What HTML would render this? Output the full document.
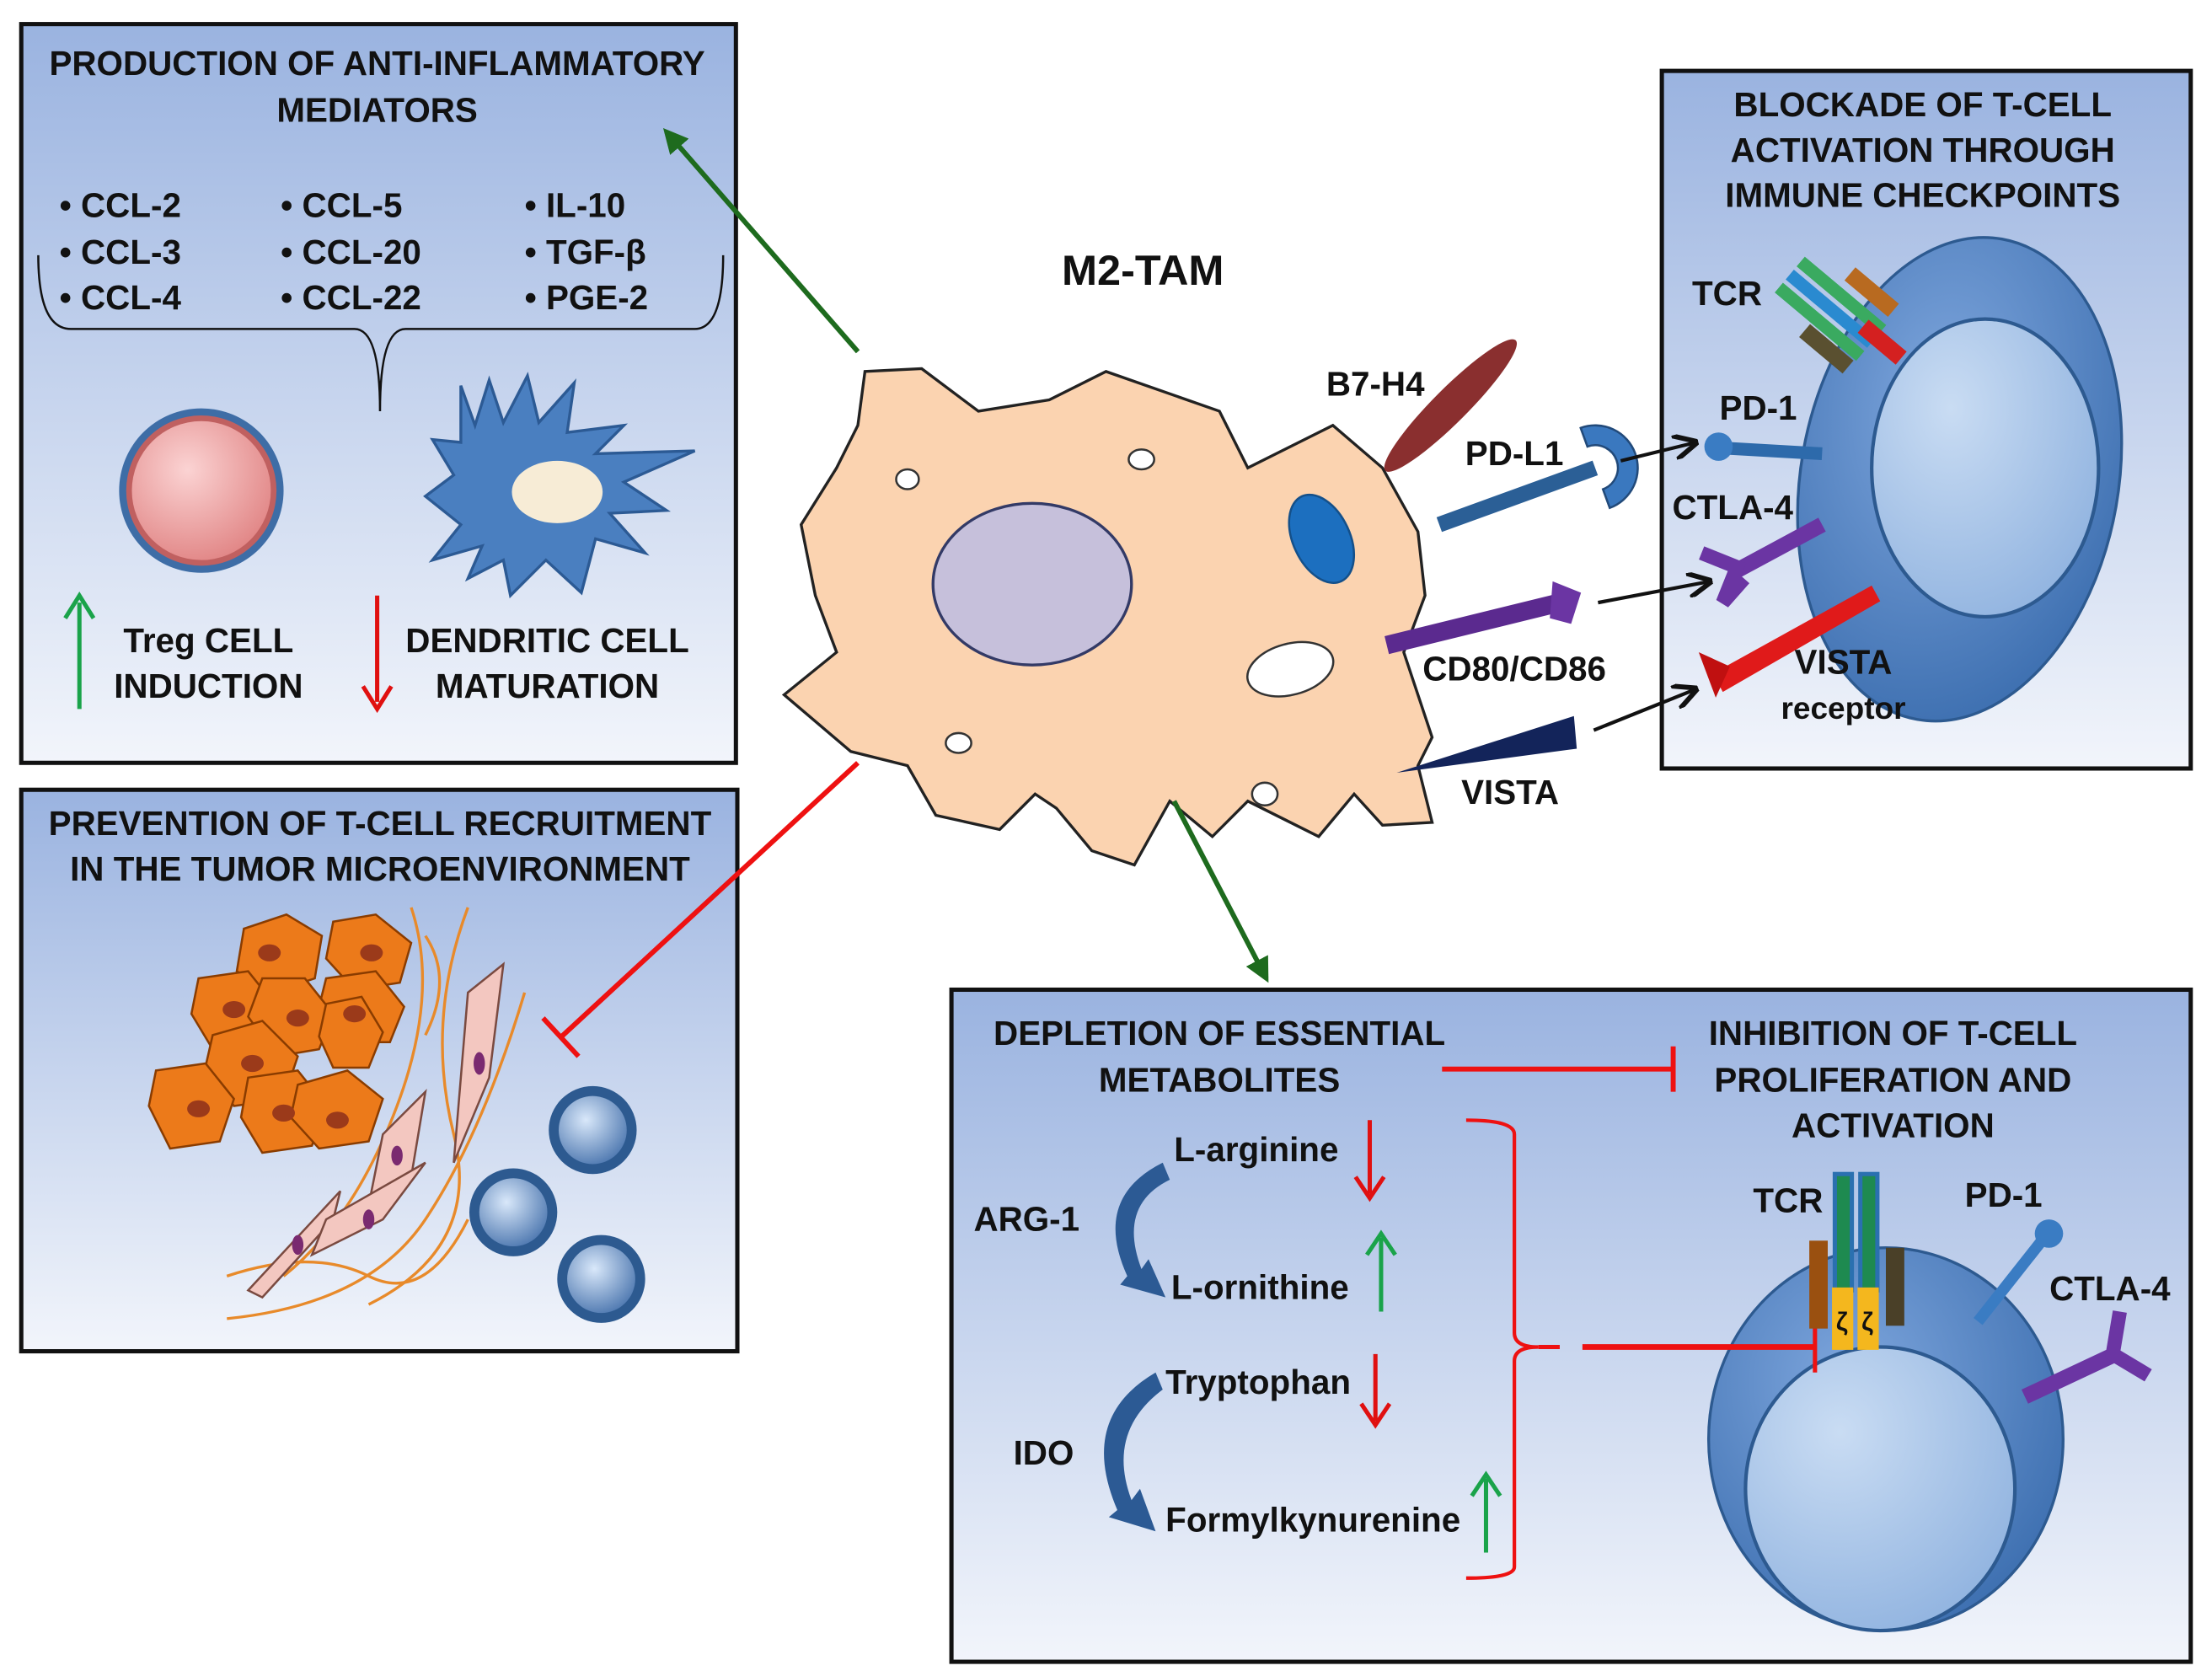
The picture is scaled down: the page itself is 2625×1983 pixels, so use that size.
<!DOCTYPE html>
<html><head><meta charset="utf-8"><style>html,body{margin:0;padding:0;background:#fff}svg{display:block}text{font-family:"Liberation Sans",sans-serif;font-weight:bold;fill:#111}</style></head><body>
<svg width="2625" height="1983" viewBox="0 0 1560 1178.5" preserveAspectRatio="none" xmlns="http://www.w3.org/2000/svg">
<defs>
<linearGradient id="bg" x1="0" y1="0" x2="0" y2="1"><stop offset="0" stop-color="#9ab3e0"/><stop offset="1" stop-color="#f2f5fb"/></linearGradient>
<radialGradient id="cellb" cx="0.4" cy="0.35" r="0.7"><stop offset="0" stop-color="#7ea6dd"/><stop offset="1" stop-color="#3d6fb0"/></radialGradient>
<radialGradient id="nuc" cx="0.35" cy="0.3" r="0.8"><stop offset="0" stop-color="#c9dcf3"/><stop offset="1" stop-color="#8fb2df"/></radialGradient>
<radialGradient id="treg" cx="0.4" cy="0.35" r="0.7"><stop offset="0" stop-color="#fbd3d3"/><stop offset="1" stop-color="#e18585"/></radialGradient>
<radialGradient id="sm" cx="0.4" cy="0.35" r="0.7"><stop offset="0" stop-color="#d9e8fa"/><stop offset="1" stop-color="#4e78b0"/></radialGradient>
<marker id="ah" viewBox="0 0 10 10" refX="9" refY="5" markerWidth="7" markerHeight="7" orient="auto"><path d="M0,0 L10,5 L0,10" fill="none" stroke="#111" stroke-width="2"/></marker>
<marker id="ag" viewBox="0 0 10 10" refX="8" refY="5" markerWidth="5" markerHeight="5" orient="auto"><path d="M0,0 L10,5 L0,10 z" fill="#1e6b1e"/></marker>
</defs>
<rect width="1560" height="1179" fill="#fff"/>
<rect x="15" y="17" width="504" height="521" fill="url(#bg)" stroke="#111" stroke-width="3"/>
<rect x="15" y="557" width="505" height="396" fill="url(#bg)" stroke="#111" stroke-width="3"/>
<rect x="1172" y="50" width="373" height="492" fill="url(#bg)" stroke="#111" stroke-width="3"/>
<rect x="671" y="698" width="874" height="474" fill="url(#bg)" stroke="#111" stroke-width="3"/>

<g font-size="24">
<text x="266" y="53" text-anchor="middle">PRODUCTION OF ANTI-INFLAMMATORY</text>
<text x="266" y="86" text-anchor="middle">MEDIATORS</text>
<text x="42" y="153">• CCL-2</text><text x="42" y="186">• CCL-3</text><text x="42" y="218">• CCL-4</text>
<text x="198" y="153">• CCL-5</text><text x="198" y="186">• CCL-20</text><text x="198" y="218">• CCL-22</text>
<text x="370" y="153">• IL-10</text><text x="370" y="186">• TGF-β</text><text x="370" y="218">• PGE-2</text>
</g>
<path d="M27,180 Q27,232 50,232 L250,232 Q268,232 268,290 Q268,232 286,232 L490,232 Q510,232 510,180" fill="none" stroke="#111" stroke-width="1.5"/>
<circle cx="142" cy="346" r="58" fill="#3e6da6"/><circle cx="142" cy="346" r="53" fill="#c06060"/><circle cx="142" cy="346" r="49" fill="url(#treg)"/>
<path d="M325,272 L335,300 L345,268 L355,298 L372,265 L380,298 L405,270 L400,305 L440,300 L420,320 L490,318 L440,340 L470,360 L430,362 L455,390 L420,380 L410,418 L385,395 L360,420 L355,395 L330,408 L340,385 L305,395 L325,370 L300,350 L320,335 L305,310 L325,312 Z" fill="#4a7fc0" stroke="#2c5a94" stroke-width="2"/>
<ellipse cx="393" cy="347" rx="32" ry="22" fill="#f7ecd6"/>
<line x1="56" y1="500" x2="56" y2="425" stroke="#1aa34a" stroke-width="3"/><path d="M46,436 L56,420 L66,436" fill="none" stroke="#1aa34a" stroke-width="3"/>
<line x1="266" y1="420" x2="266" y2="495" stroke="#e01010" stroke-width="3"/><path d="M256,484 L266,500 L276,484" fill="none" stroke="#e01010" stroke-width="3"/>
<g font-size="24">
<text x="147" y="460" text-anchor="middle">Treg CELL</text><text x="147" y="492" text-anchor="middle">INDUCTION</text>
<text x="386" y="460" text-anchor="middle">DENDRITIC CELL</text><text x="386" y="492" text-anchor="middle">MATURATION</text>
<text x="268" y="589" text-anchor="middle">PREVENTION OF T-CELL RECRUITMENT</text>
<text x="268" y="621" text-anchor="middle">IN THE TUMOR MICROENVIRONMENT</text>
</g>
<g fill="#ec7a1a" stroke="#8a3c00" stroke-width="1.5">
<path d="M172,655 l30,-10 25,15 -5,30 -30,10 -25,-15z"/><path d="M235,650 l30,-5 25,20 -8,28 -32,5 -20,-22z"/><path d="M230,690 l35,-5 20,25 -10,25 -35,0 -15,-25z"/>
<path d="M140,690 l35,-5 20,25 -10,30 -35,0 -15,-25z"/><path d="M185,690 l30,0 20,25 -10,25 -30,5 -20,-28z"/><path d="M150,730 l35,-10 25,25 -10,30 -35,5 -20,-28z"/>
<path d="M110,755 l35,-5 20,25 -10,30 -35,5 -15,-30z"/><path d="M175,760 l35,-5 20,25 -10,28 -35,5 -15,-25z"/><path d="M210,765 l35,-10 25,20 -10,30 -35,5 -20,-22z"/>
<path d="M230,708 l25,-5 15,25 -10,25 -25,0 -10,-22z"/></g>
<g fill="#9b3a1a"><ellipse cx="190" cy="672" rx="8" ry="6"/><ellipse cx="262" cy="672" rx="8" ry="6"/><ellipse cx="250" cy="715" rx="8" ry="6"/><ellipse cx="165" cy="712" rx="8" ry="6"/><ellipse cx="210" cy="718" rx="8" ry="6"/><ellipse cx="178" cy="750" rx="8" ry="6"/><ellipse cx="140" cy="782" rx="8" ry="6"/><ellipse cx="200" cy="785" rx="8" ry="6"/><ellipse cx="238" cy="790" rx="8" ry="6"/></g>
<g fill="none" stroke="#e88a2a" stroke-width="2"><path d="M290,640 Q310,700 280,780 T200,900"/><path d="M330,640 Q300,720 320,800 T260,920"/><path d="M370,700 Q340,800 300,860 T160,930"/><path d="M160,900 Q220,880 260,900 T330,860"/><path d="M300,660 Q320,690 300,730"/></g>
<g fill="#f3c7c0" stroke="#7a4a40" stroke-width="1.5"><path d="M330,700 L355,680 L345,760 L320,820 Z"/><path d="M270,800 L300,770 L290,830 L260,850 Z"/><path d="M175,910 L240,840 L235,860 L185,915 Z"/><path d="M230,860 L300,820 L270,860 L220,885Z"/></g>
<g fill="#7a2a70"><ellipse cx="338" cy="750" rx="4" ry="8"/><ellipse cx="280" cy="815" rx="4" ry="7"/><ellipse cx="210" cy="878" rx="4" ry="7"/><ellipse cx="260" cy="860" rx="4" ry="7"/></g>
<g><circle cx="418" cy="797" r="31" fill="#2d5a90"/><circle cx="418" cy="797" r="24" fill="url(#sm)"/>
<circle cx="362" cy="855" r="31" fill="#2d5a90"/><circle cx="362" cy="855" r="24" fill="url(#sm)"/>
<circle cx="424" cy="902" r="31" fill="#2d5a90"/><circle cx="424" cy="902" r="24" fill="url(#sm)"/></g>
<line x1="605" y1="538" x2="395" y2="732" stroke="#ee1111" stroke-width="3.5"/><line x1="383" y1="718" x2="408" y2="745" stroke="#ee1111" stroke-width="3.5"/>

<path d="M610,262 L650,260 L690,290 L740,282 L780,262 L860,290 L880,330 L940,300 L975,330 L1000,375 L1005,420 L990,460 L1010,520 L1000,540 L1010,580 L975,582 L955,560 L930,590 L880,565 L855,590 L825,565 L800,610 L770,600 L745,570 L730,560 L705,585 L660,575 L640,540 L600,530 L553,490 L590,460 L575,420 L565,370 L590,330 L605,300 Z" fill="#fbd3b0" stroke="#222" stroke-width="2"/>
<ellipse cx="728" cy="412" rx="70" ry="57" fill="#c6c0db" stroke="#333a66" stroke-width="2"/>
<ellipse cx="932" cy="380" rx="20" ry="33" transform="rotate(-25 932 380)" fill="#1c6fbf" stroke="#14508a" stroke-width="1.5"/>
<ellipse cx="910" cy="472" rx="31" ry="18" transform="rotate(-15 910 472)" fill="#fff" stroke="#333" stroke-width="1.5"/>
<g fill="#fff" stroke="#333" stroke-width="1.5"><ellipse cx="640" cy="338" rx="8" ry="7"/><ellipse cx="805" cy="324" rx="9" ry="7"/><ellipse cx="676" cy="524" rx="9" ry="7"/><ellipse cx="892" cy="560" rx="9" ry="8"/></g>
<text x="806" y="201" font-size="30" text-anchor="middle">M2-TAM</text>
<ellipse cx="1023" cy="286" rx="65" ry="12" transform="rotate(-45 1023 286)" fill="#8a2f2f"/>
<g font-size="24">
<text x="970" y="279" text-anchor="middle">B7-H4</text>
<text x="1068" y="328" text-anchor="middle">PD-L1</text>
<text x="1068" y="480" text-anchor="middle">CD80/CD86</text>
<text x="1065" y="567" text-anchor="middle">VISTA</text>
</g>
<line x1="1015" y1="370" x2="1125" y2="330" stroke="#2b5f96" stroke-width="11"/>
<path d="M1125,300 A30,30 0 0 1 1125,360 L1125,346 A16,16 0 0 0 1125,314 Z" fill="#3a78bf" stroke="#224a7a" stroke-width="1.5" transform="rotate(-20 1125 330)"/>
<line x1="1143" y1="325" x2="1196" y2="312" stroke="#111" stroke-width="2.5" marker-end="url(#ah)"/>
<line x1="978" y1="455" x2="1100" y2="425" stroke="#5b2a8f" stroke-width="13"/><path d="M1095,410 L1115,418 L1108,440 L1093,436Z" fill="#6b35a3"/>
<line x1="1127" y1="425" x2="1206" y2="410" stroke="#111" stroke-width="2.5" marker-end="url(#ah)"/>
<path d="M985,545 L1110,505 L1112,528 Z" fill="#13245a"/>
<line x1="1124" y1="515" x2="1196" y2="486" stroke="#111" stroke-width="2.5" marker-end="url(#ah)"/>
<line x1="605" y1="248" x2="470" y2="93" stroke="#1e6b1e" stroke-width="3.5" marker-end="url(#ag)"/>
<line x1="828" y1="565" x2="893" y2="690" stroke="#1e6b1e" stroke-width="3.5" marker-end="url(#ag)"/>

<g font-size="24">
<text x="1356" y="82" text-anchor="middle">BLOCKADE OF T-CELL</text>
<text x="1356" y="114" text-anchor="middle">ACTIVATION THROUGH</text>
<text x="1356" y="146" text-anchor="middle">IMMUNE CHECKPOINTS</text>
</g>
<ellipse cx="1382" cy="338" rx="112" ry="172" transform="rotate(10 1382 338)" fill="url(#cellb)" stroke="#2d5a90" stroke-width="2"/>
<ellipse cx="1400" cy="330" rx="80" ry="105" fill="url(#nuc)" stroke="#2d5a90" stroke-width="2.5"/>
<g transform="rotate(40 1290 215)"><rect x="1255" y="200" width="75" height="9" fill="#3aaa60"/><rect x="1255" y="212" width="75" height="9" fill="#2a8ad0"/><rect x="1255" y="224" width="75" height="9" fill="#3aaa60"/></g>
<rect x="1300" y="200" width="40" height="12" fill="#b86a20" transform="rotate(40 1320 206)"/>
<rect x="1310" y="235" width="35" height="12" fill="#d42020" transform="rotate(40 1327 241)"/>
<rect x="1268" y="240" width="40" height="12" fill="#5a5030" transform="rotate(40 1288 246)"/>
<line x1="1215" y1="316" x2="1285" y2="320" stroke="#2d6aab" stroke-width="9"/><circle cx="1212" cy="315" r="10" fill="#3a7cc3"/>
<line x1="1220" y1="405" x2="1285" y2="370" stroke="#6b35a3" stroke-width="11"/><path d="M1200,390 L1225,400 L1215,425 L1230,408" fill="none" stroke="#6b35a3" stroke-width="10"/>
<path d="M1208,475 L1320,413 L1326,424 L1215,488 Z" fill="#e01a1a"/><path d="M1198,460 L1210,492 L1220,470Z" fill="#c01010"/>
<g font-size="24">
<text x="1218" y="215" text-anchor="middle">TCR</text>
<text x="1240" y="296" text-anchor="middle">PD-1</text>
<text x="1222" y="366" text-anchor="middle">CTLA-4</text>
<text x="1300" y="475" text-anchor="middle">VISTA</text>
<text x="1300" y="507" font-size="22" text-anchor="middle">receptor</text>
</g>

<g font-size="24">
<text x="860" y="737" text-anchor="middle">DEPLETION OF ESSENTIAL</text>
<text x="860" y="770" text-anchor="middle">METABOLITES</text>
<text x="1335" y="737" text-anchor="middle">INHIBITION OF T-CELL</text>
<text x="1335" y="770" text-anchor="middle">PROLIFERATION AND</text>
<text x="1335" y="802" text-anchor="middle">ACTIVATION</text>
<text x="724" y="868" text-anchor="middle">ARG-1</text>
<text x="736" y="1033" text-anchor="middle">IDO</text>
<text x="828" y="819">L-arginine</text>
<text x="826" y="916">L-ornithine</text>
<text x="822" y="983">Tryptophan</text>
<text x="822" y="1080">Formylkynurenine</text>
</g>
<line x1="1017" y1="754" x2="1180" y2="754" stroke="#ee1111" stroke-width="3.5"/><line x1="1180" y1="738" x2="1180" y2="770" stroke="#ee1111" stroke-width="3.5"/>
<path d="M820,820 Q770,845 795,900 L790,906 L822,915 L810,888 L805,895 Q788,850 825,832 Z" fill="#2c5a94"/>
<path d="M815,968 Q760,1000 788,1065 L782,1070 L815,1080 L804,1050 L798,1058 Q780,1010 820,980 Z" fill="#2c5a94"/>
<g stroke-width="3" fill="none">
<path stroke="#e01010" d="M966,790 L966,842 M956,830 L966,845 L976,830"/>
<path stroke="#1aa34a" d="M974,925 L974,873 M964,885 L974,870 L984,885"/>
<path stroke="#e01010" d="M970,955 L970,1002 M960,990 L970,1005 L980,990"/>
<path stroke="#1aa34a" d="M1048,1095 L1048,1043 M1038,1055 L1048,1040 L1058,1055"/>
</g>
<path d="M1034,790 Q1068,790 1068,800 L1068,940 Q1068,950 1085,950 Q1068,950 1068,960 L1068,1105 Q1068,1113 1034,1113" fill="none" stroke="#ee1111" stroke-width="2.5"/>
<line x1="1085" y1="950" x2="1100" y2="950" stroke="#ee1111" stroke-width="3"/>
<ellipse cx="1330" cy="1015" rx="125" ry="135" fill="url(#cellb)" stroke="#2d5a90" stroke-width="2"/>
<ellipse cx="1326" cy="1050" rx="95" ry="100" fill="url(#nuc)" stroke="#2d5a90" stroke-width="2.5"/>
<line x1="1116" y1="950" x2="1280" y2="950" stroke="#ee1111" stroke-width="4"/><line x1="1280" y1="934" x2="1280" y2="968" stroke="#ee1111" stroke-width="3"/>
<rect x="1294" y="828" width="12" height="82" fill="#1e8a50" stroke="#2a70b0" stroke-width="3"/>
<rect x="1312" y="828" width="12" height="82" fill="#1e8a50" stroke="#2a70b0" stroke-width="3"/>
<rect x="1276" y="875" width="13" height="62" fill="#9a5010"/>
<rect x="1330" y="880" width="13" height="55" fill="#4a4028"/>
<rect x="1292" y="908" width="15" height="44" fill="#f4b71e"/><rect x="1310" y="908" width="15" height="44" fill="#f4b71e"/>
<text x="1299" y="938" font-size="18" text-anchor="middle">ζ</text><text x="1317" y="938" font-size="18" text-anchor="middle">ζ</text>
<line x1="1395" y1="932" x2="1440" y2="875" stroke="#3a7cc3" stroke-width="8"/><circle cx="1445" cy="870" r="10" fill="#3a7cc3"/>
<line x1="1428" y1="985" x2="1492" y2="955" stroke="#6b35a3" stroke-width="11"/><path d="M1495,925 L1490,955 L1515,970" fill="none" stroke="#6b35a3" stroke-width="10"/>
<g font-size="24">
<text x="1261" y="855" text-anchor="middle">TCR</text>
<text x="1413" y="851" text-anchor="middle">PD-1</text>
<text x="1488" y="917" text-anchor="middle">CTLA-4</text>
</g>
</svg>
</body></html>
